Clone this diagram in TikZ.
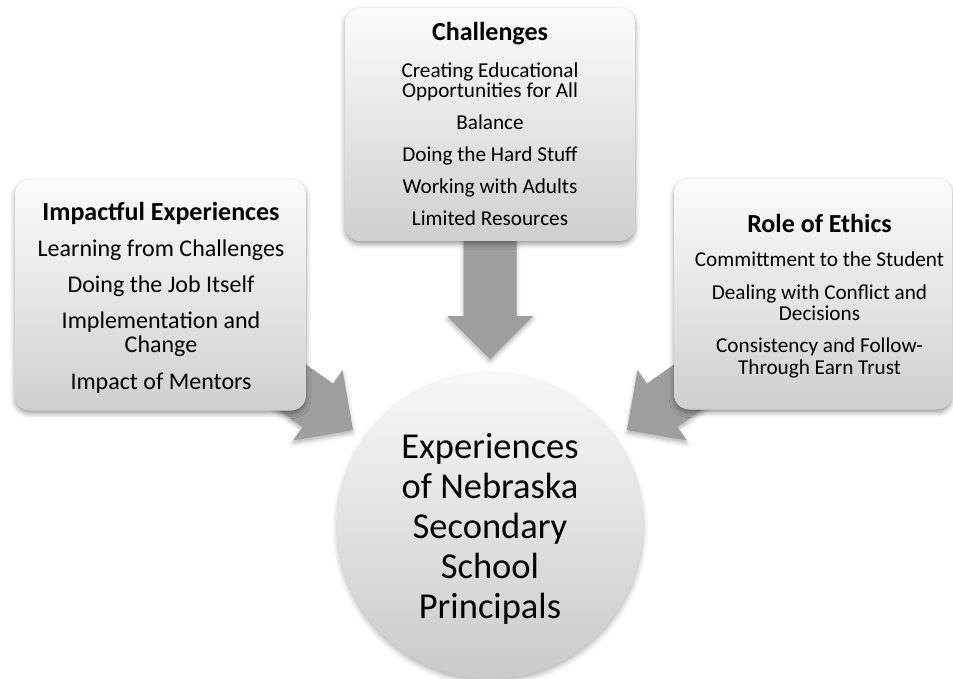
\documentclass[tikz,border=0pt]{standalone}
\usepackage{fontspec}
\setmainfont{Carlito}
\usetikzlibrary{shadows.blur}
\definecolor{arrowgray}{HTML}{9E9E9E}
\definecolor{boxtop}{HTML}{FCFCFC}
\definecolor{boxbot}{HTML}{CFCFCF}
\definecolor{circtop}{HTML}{F8F8F8}
\definecolor{circbot}{HTML}{CACACA}
\begin{document}
\begin{tikzpicture}[x=1pt,y=-1pt,
  panel/.style={rounded corners=15pt, top color=boxtop, bottom color=boxbot, draw=none, inner sep=0pt,
    blur shadow={shadow xshift=0pt, shadow yshift=-3pt, shadow blur radius=5pt, shadow opacity=40}},
  hub/.style={circle, top color=circtop, bottom color=circbot, draw=none, inner sep=0pt,
    blur shadow={shadow xshift=0pt, shadow yshift=-3pt, shadow blur radius=5pt, shadow opacity=30}},
  blockarrow/.style={fill=arrowgray, draw=none,
    blur shadow={shadow xshift=0pt, shadow yshift=-3pt, shadow blur radius=4pt, shadow opacity=30}},
  ln/.style={anchor=base, inner sep=0pt},
  headln/.style={ln, font=\bfseries\fontsize{26}{28}\selectfont},
  bigln/.style={ln, font=\fontsize{24}{26}\selectfont},
  smallln/.style={ln, font=\fontsize{21.2}{23}\selectfont},
  hubln/.style={ln, font=\fontsize{36.5}{40}\selectfont},
]
\useasboundingbox (0,0) rectangle (953,679);

% block arrows (drawn first, boxes cover their tails)
\coordinate (tipC) at (490,359);
\coordinate (tipL) at (353,430);
\coordinate (tipR) at (627,430);
\fill[blockarrow, shift={(tipC)}, rotate=-90]
  (0,0) -- (-43,-43) -- (-43,-26.5) -- (-134,-26.5) -- (-134,26.5) -- (-43,26.5) -- (-43,43) -- cycle;
\fill[blockarrow, shift={(tipL)}, rotate=-35.1]
  (0,0) -- (-43,-43) -- (-43,-26.5) -- (-150,-26.5) -- (-150,26.5) -- (-43,26.5) -- (-43,43) -- cycle;
\fill[blockarrow, shift={(tipR)}, rotate=-144.9]
  (0,0) -- (-43,-43) -- (-43,-26.5) -- (-150,-26.5) -- (-150,26.5) -- (-43,26.5) -- (-43,43) -- cycle;

% panels
\node[panel, minimum width=290pt, minimum height=233pt] (chal) at (490,124.5) {};
\node[panel, minimum width=291pt, minimum height=231pt] (impact) at (160.5,295) {};
\node[panel, minimum width=278pt, minimum height=231pt] (ethics) at (813,294) {};

% hub
\node[hub, minimum size=306pt] (core) at (490,526) {};

% Challenges text
\node[headln]  (c0) at (490,40.7)  {Challenges};
\node[smallln] (c1) at (490,77.3)  {Creating Educational};
\node[smallln] (c2) at (490,97.6)  {Opportunities for All};
\node[smallln] (c3) at (490,129.6) {Balance};
\node[smallln] (c4) at (490,161.6) {Doing the Hard Stuff};
\node[smallln] (c5) at (490,193.6) {Working with Adults};
\node[smallln] (c6) at (490,225.6) {Limited Resources};

% Impactful Experiences text
\node[headln] (l0) at (161,221)   {Impactful Experiences};
\node[bigln]  (l1) at (161,256.7) {Learning from Challenges};
\node[bigln]  (l2) at (161,292.5) {Doing the Job Itself};
\node[bigln]  (l3) at (161,328.5) {Implementation and};
\node[bigln]  (l4) at (161,352.7) {Change};
\node[bigln]  (l5) at (161,389)   {Impact of Mentors};

% Role of Ethics text
\node[headln]  (r0) at (819.5,232.7) {Role of Ethics};
\node[smallln] (r1) at (819.5,266.7) {Committment to the Student};
\node[smallln] (r2) at (819.5,299.3) {Dealing with Conflict and};
\node[smallln] (r3) at (819.5,320.5) {Decisions};
\node[smallln] (r4) at (819.5,352.7) {Consistency and Follow-};
\node[smallln] (r5) at (819.5,374)   {Through Earn Trust};

% hub text
\node[hubln] (h1) at (490,458) {Experiences};
\node[hubln] (h2) at (490,498) {of Nebraska};
\node[hubln] (h3) at (490,538) {Secondary};
\node[hubln] (h4) at (490,578) {School};
\node[hubln] (h5) at (490,618) {Principals};
\end{tikzpicture}
\end{document}
